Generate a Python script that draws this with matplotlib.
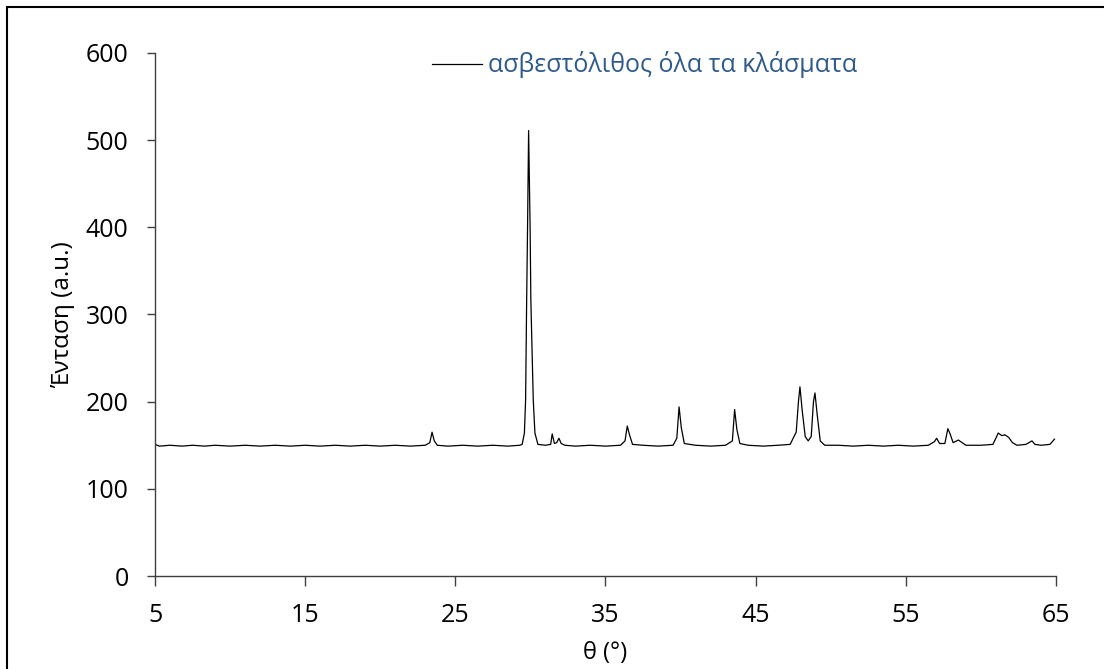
import matplotlib
matplotlib.use('Agg')
import matplotlib.pyplot as plt
from matplotlib.patches import Rectangle

plt.rcParams['font.family'] = ['Open Sans', 'DejaVu Sans']

# diffraction pattern (2theta, intensity)
theta = [5.0, 5.3, 6.0, 6.8, 7.5, 8.3, 9.0, 10.0, 11.0, 12.0, 13.0, 14.0, 15.0,
         16.0, 17.0, 18.0, 19.0, 20.0, 21.0, 22.0, 23.0, 23.3, 23.45, 23.6, 23.8,
         24.5, 25.5, 26.5, 27.5, 28.5, 29.3, 29.45, 29.6, 29.68, 29.75, 29.81,
         29.88, 29.98, 30.03, 30.19, 30.3, 30.5, 31.0, 31.35, 31.45, 31.6, 31.75,
         31.9, 32.05, 32.3,
         33.0, 34.0, 35.0, 36.0, 36.3, 36.45, 36.6, 36.8, 37.5, 38.5, 39.5, 39.75,
         39.9, 40.05, 40.25, 41.0, 42.0, 43.0, 43.45, 43.6, 43.75, 43.95, 44.5,
         45.5, 46.5, 47.3, 47.55, 47.7, 47.85, 47.95, 48.1, 48.3, 48.5, 48.7,
         48.85, 48.95, 49.1, 49.3, 49.6, 50.5, 51.5, 52.5, 53.5, 54.5, 55.5, 56.5,
         56.9, 57.05, 57.25, 57.6, 57.8, 57.95, 58.15, 58.5, 58.75, 59.0, 60.0,
         60.8, 61.05, 61.15, 61.4, 61.6, 61.85, 62.1, 62.4, 63.0, 63.4, 63.6, 64.0,
         64.6, 64.9]
intensity = [151, 149, 150, 149, 150, 149, 150, 149, 150, 149, 150, 149, 150,
             149, 150, 149, 150, 149, 150, 149, 150, 153, 165, 155, 150,
             149, 150, 149, 150, 149, 150, 151, 164, 202, 316, 400,
             511, 400, 316, 202, 164, 151, 150, 151, 163, 152, 153,
             158, 152, 150,
             149, 150, 149, 150, 155, 172, 162, 151, 150, 149, 150, 158,
             194, 170, 152, 150, 149, 150, 155, 191, 168, 152, 150,
             149, 150, 151, 160, 165, 200, 217, 190, 160, 155, 160,
             200, 210, 185, 155, 150, 150, 149, 150, 149, 150, 149, 150,
             154, 158, 152, 152, 169, 163, 153, 156, 153, 150, 150,
             151, 160, 164, 161, 162, 159, 153, 150, 151, 155, 151, 150,
             151, 157]

series_name = 'ασβεστόλιθος όλα τα κλάσματα'
x_ticks = [5, 15, 25, 35, 45, 55, 65]
y_ticks = [0, 100, 200, 300, 400, 500, 600]

fig = plt.figure(figsize=(11.04, 6.69), dpi=100)
ax = fig.add_axes([0.1404, 0.139, 0.8161, 0.7818])

ax.plot(theta, intensity, color='black', lw=0.9, label=series_name)

ax.set_xlim(5, 65)
ax.set_ylim(0, 600)
ax.set_xticks(x_ticks)
ax.set_yticks(y_ticks)
ax.tick_params(labelsize=18, width=1, color='#404040')
ax.tick_params(axis='x', length=7.5, pad=12)
ax.tick_params(axis='y', length=6, pad=13)
for s in ['top', 'right']:
    ax.spines[s].set_visible(False)
for s in ['left', 'bottom']:
    ax.spines[s].set_color('#404040')
    ax.spines[s].set_linewidth(1)

ax.set_xlabel('θ (°)', fontsize=17, labelpad=9)
ax.set_ylabel('Ένταση (a.u.)', fontsize=17.5, labelpad=8)

leg = ax.legend(loc='center left', bbox_to_anchor=(432 / 1104, 1 - 65 / 669),
                bbox_transform=fig.transFigure, frameon=False, fontsize=18,
                handlelength=2.0, handletextpad=0.25, borderpad=0, borderaxespad=0,
                labelcolor='#2f5a8c')

# outer frame (picture is cropped at right and bottom)
fig.add_artist(Rectangle((7 / 1104, -0.1), 1.2, 1 - 7 / 669 + 0.1,
                         transform=fig.transFigure, fill=False, lw=1.5,
                         edgecolor='black'))

fig.savefig('out.png', dpi=100)
